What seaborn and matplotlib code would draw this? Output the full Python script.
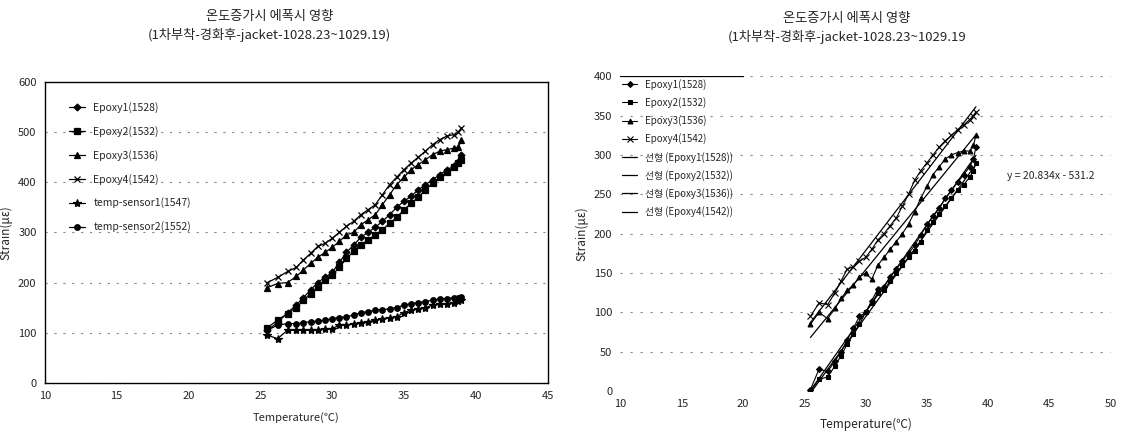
import numpy as np
import pandas as pd
import seaborn as sns
import matplotlib.pyplot as plt

# temperature steps shared by all series
temps = [25.5, 26.2, 26.9, 27.5, 28.0, 28.5, 29.0, 29.5, 30.0, 30.5, 31.0, 31.5, 32.0, 32.5,
         33.0, 33.5, 34.0, 34.5, 35.0, 35.5, 36.0, 36.5, 37.0, 37.5, 38.0, 38.5, 38.8, 39.0]

# left chart - raw strain
left_epoxy1 = [105, 120, 140, 155, 170, 185, 200, 210, 220, 240, 260, 275, 290, 300,
               310, 322, 335, 350, 362, 372, 385, 395, 405, 415, 425, 432, 440, 455]
left_epoxy2 = [110, 125, 138, 150, 165, 178, 192, 205, 215, 230, 248, 262, 275, 285,
               295, 305, 318, 330, 345, 358, 370, 385, 398, 410, 420, 430, 438, 445]
left_epoxy3 = [190, 198, 200, 212, 225, 238, 250, 260, 270, 282, 295, 300, 315, 325,
               335, 355, 375, 395, 410, 425, 435, 445, 455, 462, 465, 468, 470, 485]
left_epoxy4 = [200, 210, 222, 230, 245, 258, 272, 278, 288, 300, 312, 322, 335, 345,
               355, 375, 395, 410, 425, 438, 450, 462, 475, 485, 492, 495, 500, 508]
left_temp1 = [95, 88, 105, 105, 105, 105, 106, 108, 108, 115, 115, 118, 120, 122,
              125, 128, 130, 132, 140, 145, 148, 150, 155, 157, 158, 160, 163, 165]
left_temp2 = [105, 115, 118, 118, 120, 122, 123, 125, 128, 130, 132, 135, 140, 142,
              145, 145, 148, 150, 155, 158, 160, 162, 165, 167, 168, 170, 170, 172]
left_labels = ['Epoxy1(1528)', 'Epoxy2(1532)', 'Epoxy3(1536)', 'Epoxy4(1542)',
               'temp-sensor1(1547)', 'temp-sensor2(1552)']

# right chart - zeroed strain with linear trends
right_epoxy1 = [2, 28, 25, 38, 50, 65, 80, 95, 100, 115, 130, 132, 145, 155,
                165, 175, 185, 198, 212, 222, 232, 245, 255, 265, 275, 285, 295, 310]
right_epoxy2 = [0, 15, 18, 32, 45, 60, 72, 85, 100, 112, 125, 128, 140, 150,
                160, 170, 178, 190, 205, 215, 225, 235, 245, 255, 262, 272, 280, 290]
right_epoxy3 = [85, 100, 92, 105, 118, 128, 135, 145, 150, 142, 160, 170, 180, 190,
                200, 212, 228, 245, 260, 275, 285, 295, 300, 303, 305, 305, 312, 325]
right_epoxy4 = [95, 112, 110, 125, 140, 155, 158, 165, 170, 180, 192, 200, 210, 220,
                235, 250, 268, 280, 290, 300, 310, 318, 325, 332, 338, 345, 350, 355]
right_labels = ['Epoxy1(1528)', 'Epoxy2(1532)', 'Epoxy3(1536)', 'Epoxy4(1542)']
trend_text = 'y = 20.834x - 531.2'

title_left = '온도증가시 에폭시 영향\n(1차부착-경화후-jacket-1028.23~1029.19)'
title_right = '온도증가시 에폭시 영향\n(1차부착-경화후-jacket-1028.23~1029.19'

sns.set_theme(style='white')
plt.rcParams['font.family'] = ['Noto Sans CJK KR', 'DejaVu Sans']

markers = ['D', 's', '^', 'x', '*', 'o']
msizes = [3.5, 4, 4, 5, 6, 4]

fig = plt.figure(figsize=(11.22, 4.38), dpi=100)
ax1 = fig.add_axes([0.040, 0.126, 0.448, 0.687])
ax2 = fig.add_axes([0.553, 0.107, 0.437, 0.719])

# ---------------- left chart ----------------
left_series = [left_epoxy1, left_epoxy2, left_epoxy3, left_epoxy4, left_temp1, left_temp2]
for vals, lab, m, ms in zip(left_series, left_labels, markers, msizes):
    sns.lineplot(x=temps, y=vals, ax=ax1, color='black', lw=0.9, marker=m,
                 markersize=ms, markeredgecolor='black', markeredgewidth=0.9,
                 label=lab, sort=False)

ax1.set_xlim(10, 45)
ax1.set_ylim(0, 600)
ax1.set_xticks(range(10, 46, 5))
ax1.set_yticks(range(0, 601, 100))
for s in ax1.spines.values():
    s.set_visible(True)
    s.set_color('black')
    s.set_linewidth(1.0)
ax1.grid(axis='y', color='#888888', ls=(0, (2, 6)), lw=0.8)
ax1.tick_params(labelsize=8, length=0, pad=6)
ax1.set_xlabel('Temperature(℃)', fontsize=8, labelpad=8)
ax1.set_ylabel('Strain(με)', fontsize=8.5, labelpad=4)
ax1.legend(loc='upper left', bbox_to_anchor=(0.03, 0.965), frameon=False, fontsize=7.5,
           handlelength=1.5, labelspacing=1.25)

# ---------------- right chart ----------------
right_series = [right_epoxy1, right_epoxy2, right_epoxy3, right_epoxy4]
for vals, lab, m, ms in zip(right_series, right_labels, markers, msizes):
    sns.lineplot(x=temps, y=vals, ax=ax2, color='black', lw=0.8, marker=m,
                 markersize=ms - 0.5, markeredgecolor='black', markeredgewidth=0.8,
                 label=lab, sort=False)
for vals, lab in zip(right_series, right_labels):
    sns.regplot(x=np.array(temps), y=np.array(vals), ax=ax2, scatter=False, ci=None,
                color='black', line_kws={'lw': 0.9}, label=f'선형 ({lab})')

ax2.set_xlim(10, 50)
ax2.set_ylim(0, 400)
ax2.set_xticks(range(10, 51, 5))
ax2.set_yticks(range(0, 401, 50))
for s in ax2.spines.values():
    s.set_visible(False)
ax2.grid(axis='y', color='#888888', ls=(0, (2, 7)), lw=0.8)
ax2.axhline(400, xmin=0, xmax=0.25, color='black', lw=0.9)
ax2.tick_params(labelsize=8, length=0, pad=6)
ax2.set_xlabel('Temperature(℃)', fontsize=8.5, labelpad=6)
ax2.set_ylabel('Strain(με)', fontsize=8.5, labelpad=4)
ax2.text(41.5, 273, trend_text, fontsize=7.5, va='center', ha='left')
ax2.legend(loc='upper left', bbox_to_anchor=(-0.015, 1.02), frameon=False, fontsize=7,
           handlelength=1.6, labelspacing=0.75)

fig.text(0.24, 0.94, title_left, ha='center', va='center', fontsize=9.5, linespacing=1.45)
fig.text(0.755, 0.935, title_right, ha='center', va='center', fontsize=9.5, linespacing=1.45)

fig.savefig('out.png', dpi=100)
